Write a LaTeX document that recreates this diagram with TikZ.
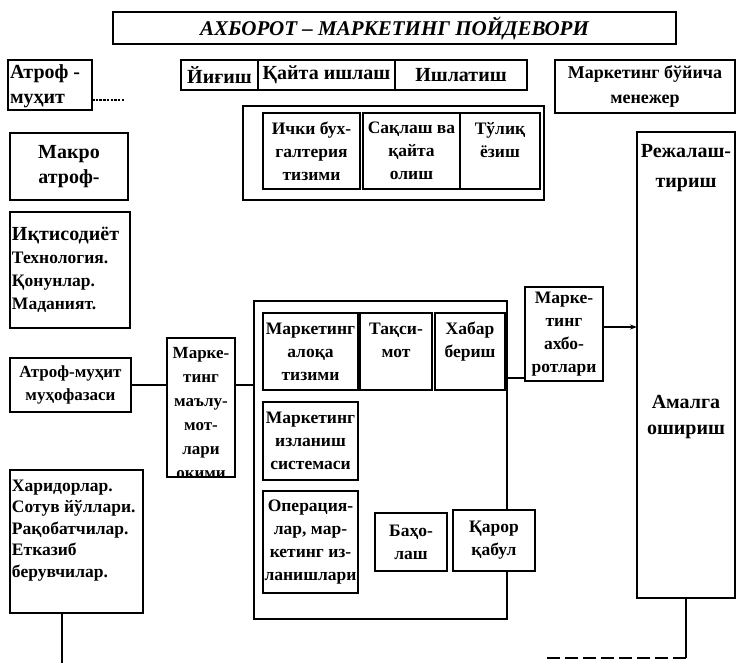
\documentclass[tikz,border=0pt]{standalone}
\usepackage{fontspec}
\setmainfont{Liberation Serif}
\usetikzlibrary{arrows.meta}
\newcommand\setfs[2]{\fontsize{#1}{#2}\selectfont}
\begin{document}
\begin{tikzpicture}[x=1pt,y=-1pt,
  box/.style={draw, line width=1.4pt, fill=white, inner sep=0pt, outer sep=0pt,
              anchor=north west, align=center, font=\bfseries\setfs{17.5}{23}},
  plain/.style={inner sep=0pt, outer sep=0pt, align=center, font=\bfseries\setfs{17.5}{23}},
  wire/.style={line width=1.6pt},
]
\useasboundingbox (0,0) rectangle (738,663);

% heading
\node[box, minimum width=563, minimum height=32, font=\bfseries\itshape\setfs{21}{24}]
  (title) at (113,12) {АХБОРОТ – МАРКЕТИНГ ПОЙДЕВОРИ};

% information handling stages
\node[box, minimum width=77,  minimum height=30, font=\bfseries\setfs{20}{22}] (yigish) at (181,60) {Йиғиш};
\node[box, minimum width=137, minimum height=30, font=\bfseries\setfs{20}{22}] (qayta) at (258,60) {Қайта ишлаш};
\node[box, minimum width=132, minimum height=30, font=\bfseries\setfs{20}{22}] (ishlatish) at (395,60) {Ишлатиш};

\node[box, minimum width=180, minimum height=53, font=\bfseries\setfs{18}{25}] (manager) at (555,60) {Маркетинг бўйича\\менежер};

% internal records group
\node[box, minimum width=301, minimum height=94] (store) at (243,106) {};
\node[box, minimum width=97, minimum height=76] (buh) at (263,113) {Ички бух-\\галтерия\\тизими};
\node[box, minimum width=97, minimum height=76] (saqlash) at (363,113) {Сақлаш ва\\қайта\\олиш};
\node[box, minimum width=80, minimum height=76] (yozish) at (460,113) {Тўлиқ\\ёзиш\\\mbox{}};

% environment column
\node[box, minimum width=84, minimum height=50] (atrof) at (8,60) {};
\node[plain, anchor=north west, align=left, font=\bfseries\setfs{20}{25}] (atroftxt) at (10,65) {Атроф -\\муҳит};
\coordinate (atrofstub) at (124,100);
\draw[line width=2.2pt, dash pattern=on 2.5pt off 1.2pt] (atrof.east |- atrofstub) -- (atrofstub);

\node[box, minimum width=118, minimum height=67, font=\bfseries\setfs{20}{25}] (makro) at (10,133) {Макро\\атроф-};

\node[box, minimum width=120, minimum height=116, text width=116, align=left, font=\bfseries\setfs{17.5}{23}]
  (iqt) at (10,212) {{\setfs{20}{23}Иқтисодиёт}\\Технология.\\Қонунлар.\\Маданият.};

\node[box, minimum width=121, minimum height=54, font=\bfseries\setfs{17}{23}] (muhofaza) at (10,358) {Атроф-муҳит\\муҳофазаси};

\node[box, minimum width=68, minimum height=139] (malumot) at (167,338) {};
\begin{scope}
  \clip (malumot.north west) rectangle (malumot.south east);
  \node[plain, anchor=north, font=\bfseries\setfs{17}{24}] (malumottxt) at ([yshift=-9pt]malumot.north)
    {Марке-\\тинг\\маълу-\\мот-\\лари\\окими};
\end{scope}
\draw[line width=1.4pt] (malumot.north west) rectangle (malumot.south east);

\node[box, minimum width=133, minimum height=143] (harid) at (10,470) {};
\node[plain, anchor=north west, align=left, font=\bfseries\setfs{17.5}{21.5}] (haridtxt) at (12,480)
  {Харидорлар.\\Сотув йўллари.\\Рақобатчилар.\\Етказиб\\берувчилар.};

% marketing information system
\node[box, minimum width=253, minimum height=318] (bigbox) at (254,301) {};
\node[box, minimum width=95, minimum height=77] (aloqa) at (263,313) {Маркетинг\\алоқа\\тизими};
\node[box, minimum width=72, minimum height=77] (taqsimot) at (360,313) {Тақси-\\мот\\\mbox{}};
\node[box, minimum width=70, minimum height=77] (habar) at (435,313) {Хабар\\бериш\\\mbox{}};
\node[box, minimum width=95, minimum height=78] (izlanish) at (263,402) {Маркетинг\\изланиш\\системаси};
\node[box, minimum width=95, minimum height=102] (oper) at (263,491) {Операция-\\лар, мар-\\кетинг из-\\ланишлари};
\node[box, minimum width=72, minimum height=58] (baho) at (375,513) {Баҳо-\\лаш};
\node[box, minimum width=82, minimum height=61] (qaror) at (453,510) {Қарор\\қабул};

\node[box, minimum width=78, minimum height=94] (ahborot) at (525,287) {Марке-\\тинг\\ахбо-\\ротлари};

% planning and implementation
\node[box, minimum width=98, minimum height=466] (plan) at (637,132) {};
\node[plain, anchor=north, font=\bfseries\setfs{20}{30}] (plantxt) at ([yshift=-12pt]plan.north) {Режалаш-\\тириш};
\node[plain, font=\bfseries\setfs{20}{26}] (amalga) at (686,417) {Амалга\\ошириш};

% connectors
\draw[wire] (muhofaza.east) -- (muhofaza.east -| malumot.west);
\draw[wire] (malumot.east |- muhofaza.east) -- (bigbox.west |- muhofaza.east);
\coordinate (hb) at ([yshift=3pt]ahborot.south west);
\draw[wire] (hb -| bigbox.east) -- (hb);
\coordinate (ha) at ([yshift=7pt]ahborot.east);
\draw[wire, -{Stealth[length=7pt,width=5pt]}] (ha) -- (ha -| plan.west);
\path (plan.south) ++(0,60) coordinate (pbend) ++(-140,0) coordinate (pend);
\draw[wire] (plan.south) -- (pbend);
\draw[wire, dash pattern=on 13pt off 5pt] (pbend) -- (pend);
\path ([xshift=-14.5pt]harid.south) coordinate (hstart) ++(0,50) coordinate (hend);
\draw[wire] (hstart) -- (hend);
\end{tikzpicture}
\end{document}
